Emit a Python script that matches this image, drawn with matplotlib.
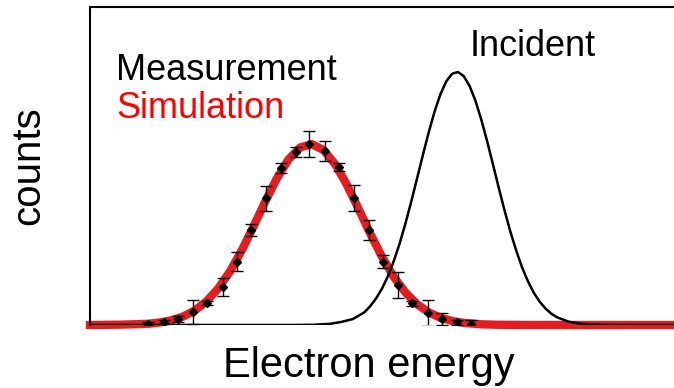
import matplotlib.pyplot as plt

plt.rcParams['font.family'] = ['Liberation Sans', 'DejaVu Sans']

# measured spectrum (arbitrary energy units, arbitrary counts)
meas_energy = [9.9, 12.6, 15.0, 17.7, 20.0, 22.7, 25.1, 27.6, 30.2, 32.7, 35.2, 37.5,
               40.2, 42.6, 45.2, 47.7, 50.2, 52.8, 55.2, 57.8, 60.2, 62.8, 65.2]
meas_counts = [0.3, 1.0, 1.9, 4.0, 7.0, 12.0, 19.9, 29.9, 39.8, 49.5, 54.5, 56.9,
               54.7, 49.8, 39.8, 29.9, 19.9, 12.6, 6.8, 3.9, 1.9, 0.8, 0.3]
meas_err = [0.6, 0.6, 1.0, 3.8, 0.7, 2.8, 3.0, 1.9, 3.9, 1.6, 1.6, 4.2,
            3.1, 1.3, 4.1, 3.1, 2.1, 4.0, 0.9, 4.1, 2.0, 0.9, 1.2]

# simulated spectrum
sim_energy = [0, 5, 8, 10, 12, 14, 16, 18, 20, 22, 24, 26, 28, 30, 32, 34, 36, 38, 40, 42,
              44, 46, 48, 50, 52, 54, 56, 58, 60, 62, 64, 67, 70, 75, 80, 100]
sim_counts = [0.0, 0.1, 0.25, 0.40, 0.80, 1.51, 2.70, 4.64, 7.53, 11.59, 16.93, 23.51,
              30.99, 38.80, 46.13, 52.09, 55.85, 56.87, 54.99, 50.50, 44.03, 36.47,
              28.68, 21.42, 15.20, 10.24, 6.55, 3.98, 2.29, 1.26, 0.65, 0.22, 0.07,
              0.01, 0.0, 0.0]

# incident beam spectrum
inc_energy = [0, 34, 38, 41, 43, 45, 47, 48, 49, 50, 51, 52, 53, 54, 55, 56, 57, 58, 59,
              60, 61, 62, 63, 64, 65, 66, 67, 68, 69, 70, 71, 72, 73, 74, 75, 76, 77,
              78, 79, 80, 82, 84, 87, 91, 100]
inc_counts = [0.0, 0.0, 0.05, 0.35, 0.95, 1.87, 4.00, 5.96, 8.40, 11.45, 15.30, 20.03,
              25.50, 31.84, 38.75, 46.06, 53.46, 60.61, 67.10, 72.55, 76.61, 79.00,
              79.56, 78.25, 75.17, 70.52, 64.60, 57.80, 50.51, 43.10, 35.92, 29.23,
              23.30, 18.04, 13.70, 10.12, 7.30, 5.17, 3.55, 2.40, 1.01, 0.40, 0.08,
              0.0, 0.0]

fig = plt.figure(figsize=(6.74, 3.88), dpi=100)
ax = fig.add_axes([90 / 674, 63 / 388, 584 / 674, 318 / 388])

ax.plot(sim_energy, sim_counts, color='#e31e22', lw=6, clip_on=False, zorder=2)
ax.plot(inc_energy, inc_counts, color='black', lw=1.8, zorder=3)
ax.errorbar(meas_energy, meas_counts, yerr=meas_err, fmt='D', color='black',
            ms=4, elinewidth=1.0, capsize=4, capthick=1.0, zorder=4)

ax.set_xlim(0, 100)
ax.set_ylim(0, 100)
ax.spines['right'].set_visible(False)
ax.spines['bottom'].set_visible(False)
for s in ('left', 'top'):
    ax.spines[s].set_linewidth(1.5)
ax.set_xticks([])
ax.set_yticks([])

ax.text(4.5, 77, 'Measurement', fontsize=26, color='black')
ax.text(4.5, 65, 'Simulation', fontsize=26, color='red')
ax.text(65, 84.5, 'Incident', fontsize=26, color='black')

ax.set_xlabel('Electron energy', fontsize=30, labelpad=15)
ax.xaxis.label.set_x(0.477)
ax.set_ylabel('counts', fontsize=29, labelpad=31)

fig.savefig('out.png', dpi=100)
